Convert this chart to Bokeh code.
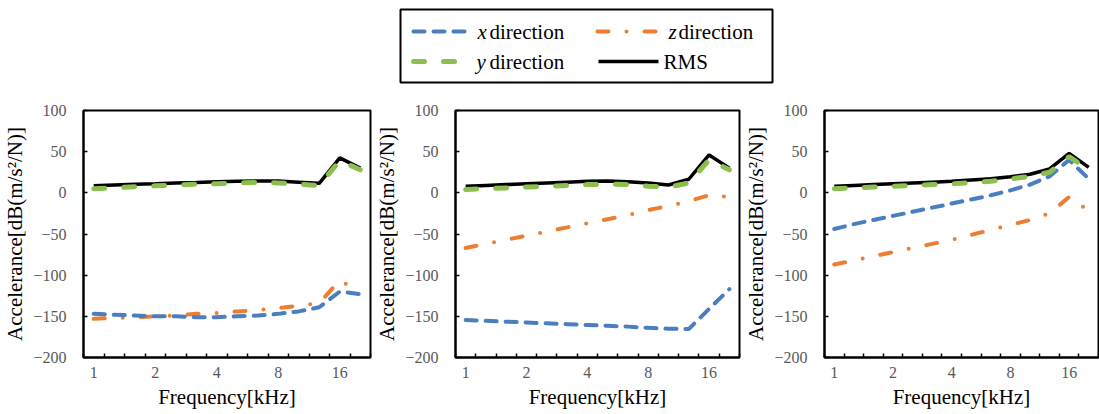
from bokeh.plotting import figure
from bokeh.layouts import column, row
from bokeh.models import Range1d, FixedTicker
from bokeh.core.properties import value
from bokeh.embed import file_html
from bokeh.resources import INLINE

# ---------------- data ----------------
freq_labels = ["1", "1.25", "1.6", "2", "2.5", "3.15", "4", "5", "6.3", "8", "10", "12.5", "16", "20"]
tick_labels = ["1", "2", "4", "8", "16"]
y_ticks = [-200, -150, -100, -50, 0, 50, 100]
series_names = ["x direction", "y direction", "z direction", "RMS"]

# panel 1
p1_x = [-147, -148, -149, -150, -150, -151, -151, -150, -149, -147, -144, -139, -120, -123]
p1_y = [5, 6, 7.5, 8.5, 9.5, 10.5, 11, 12, 12.5, 12, 10.5, 9, 39, 28]
p1_z = [-153, -152, -151, -150, -149, -147, -146, -144, -142.5, -140, -137, -134, -106, -121]
p1_rms = [8.5, 9.5, 10.5, 11, 12, 12.5, 13.5, 14, 14.5, 14.5, 13, 11.5, 42.5, 30]

# panel 2
p2_x = [-154.5, -155.5, -156.5, -157.5, -158.5, -159.5, -160.5, -161.5, -162.5, -164, -165, -165.5, -141, -117]
p2_y = [4, 5, 6, 7, 8, 9, 10, 10.5, 10, 8, 7, 12, 40, 28]
p2_z = [-67, -62, -57, -52, -47, -42, -37, -32, -27, -21, -16, -10, -3, -5]
p2_rms = [8, 9, 10, 11, 12, 13, 14, 14.5, 13.5, 12, 9.5, 16.5, 46, 30]

# panel 3
p3_x = [-44, -38, -33, -28, -23, -18, -13, -8, -3, 3, 10, 20, 40, 17]
p3_y = [5, 6, 7, 8, 9, 10, 11, 12.5, 14, 17, 20, 25, 44, 28]
p3_z = [-87, -82, -77, -72, -67, -62, -57, -51, -45, -39, -33, -25, -5, -22]
p3_rms = [8, 9, 10, 11, 12, 13, 14, 15.5, 17, 19.5, 22.5, 29, 48, 31]

panels = [
    (p1_x, p1_y, p1_z, p1_rms),
    (p2_x, p2_y, p2_z, p2_rms),
    (p3_x, p3_y, p3_z, p3_rms),
]

# ---------------- styles ----------------
SERIF = "'Liberation Serif', serif"
styles = {
    "x direction": dict(line_color="#4a7ebf", line_width=4, line_dash="11 9", line_cap="round"),
    "y direction": dict(line_color="#8cbf4f", line_width=5, line_dash="11 19", line_cap="round"),
    "z direction": dict(line_color="#ed7d31", line_width=4, line_dash="11 18 0 18", line_cap="round"),
    "RMS": dict(line_color="black", line_width=3.5),
}
draw_order = ["RMS", "z direction", "x direction", "y direction"]

idx = list(range(len(freq_labels)))
tick_pos = [freq_labels.index(t) for t in tick_labels]
minor_pos = [i - 0.5 for i in range(len(freq_labels) + 1)]

FRAME_H = 247
TOP, BOTTOM = 20, 57


def make_panel(data, left, frame_w, right):
    p = figure(width=left + frame_w + right, height=TOP + FRAME_H + BOTTOM,
               output_backend="svg", toolbar_location=None,
               x_range=Range1d(-0.5, len(freq_labels) - 0.5),
               y_range=Range1d(y_ticks[0], y_ticks[-1]),
               min_border_left=left, min_border_right=right,
               min_border_top=TOP, min_border_bottom=BOTTOM)
    p.grid.visible = False
    p.outline_line_color = "black"
    p.outline_line_width = 2
    series = dict(zip(series_names, data))
    for name in draw_order:
        p.line(idx, series[name], **styles[name])

    xa = p.xaxis[0]
    xa.ticker = FixedTicker(ticks=tick_pos, minor_ticks=minor_pos)
    xa.major_label_overrides = {i: t for i, t in zip(tick_pos, tick_labels)}
    xa.major_tick_in = 0
    xa.major_tick_out = 0
    xa.minor_tick_in = 4
    xa.minor_tick_out = 0
    xa.minor_tick_line_color = "black"
    xa.minor_tick_line_width = 1.5
    xa.major_label_standoff = 9
    xa.axis_label = "Frequency[kHz]"
    xa.axis_label_standoff = 4

    ya = p.yaxis[0]
    ya.ticker = FixedTicker(ticks=y_ticks, minor_ticks=[])
    ya.major_tick_in = 4
    ya.major_tick_out = 0
    ya.major_tick_line_color = "black"
    ya.major_tick_line_width = 1.5
    ya.minor_tick_in = 0
    ya.minor_tick_out = 0
    ya.major_label_standoff = 17
    ya.axis_label = "Accelerance[dB(m/s\u00b2/N)]"
    ya.axis_label_standoff = 3

    for ax in (xa, ya):
        ax.axis_line_color = "black"
        ax.axis_line_width = 2
        ax.major_label_text_font = SERIF
        ax.major_label_text_font_size = "16px"
        ax.major_label_text_color = "#595959"
        ax.axis_label_text_font = SERIF
        ax.axis_label_text_font_size = "21px"
        ax.axis_label_text_font_style = "normal"
        ax.axis_label_text_color = "black"
    return p


p1 = make_panel(panels[0], 82, 288, 2)
p2 = make_panel(panels[1], 83, 284, 2)
p3 = make_panel(panels[2], 76, 281, 1)

# ---------------- legend ----------------
LEG_H = 90
leg = figure(width=1099, height=LEG_H, output_backend="svg", toolbar_location=None,
             x_range=Range1d(0, 1099), y_range=Range1d(LEG_H, 0),
             x_axis_location=None, y_axis_location=None, min_border=0)
leg.grid.visible = False
leg.outline_line_color = None
leg.quad(left=[400], right=[772], top=[9], bottom=[82], fill_color=None,
         line_color="black", line_width=2)

legend_items = [
    ("x direction", 413, 468, 31, 477, "x", 489),
    ("z direction", 597, 658, 31, 668, "z", 678),
    ("y direction", 413, 461, 61, 476, "y", 489),
    ("RMS", 598, 658, 61, 663, "", 663),
]
for name, x0, x1, yy, tx_it, it_txt, tx_rest in legend_items:
    leg.line([x0, x1], [yy, yy], **styles[name])
    if it_txt:
        leg.text(x=[tx_it], y=[yy], text=[it_txt], text_font=value(SERIF),
                 text_font_style="italic", text_font_size="21px",
                 text_baseline="middle", text_color="black")
        rest = name.split(" ", 1)[1]
    else:
        rest = name
    leg.text(x=[tx_rest], y=[yy], text=[rest], text_font=value(SERIF),
             text_font_size="21px", text_baseline="middle", text_color="black")

layout = column(leg, row(p1, p2, p3, spacing=0), spacing=0)

open("out.html", "w").write(file_html(layout, INLINE))
